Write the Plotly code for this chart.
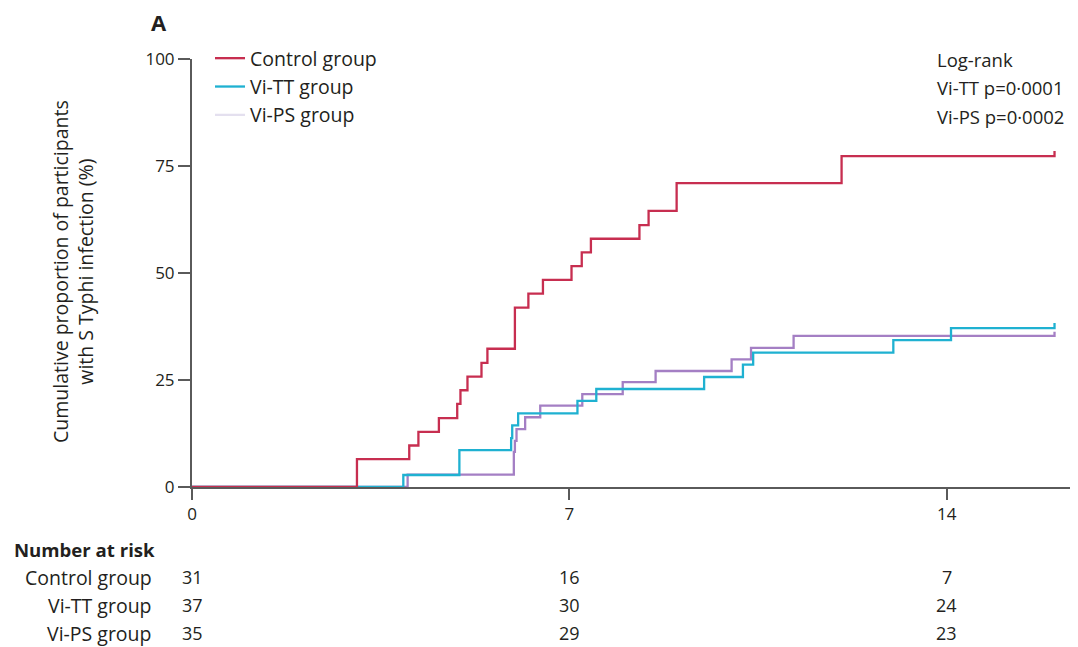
import plotly.graph_objects as go

# ---------------- data ----------------
control_t = [0, 3.06, 4.03, 4.20, 4.58, 4.92, 4.98, 5.11, 5.37, 5.48, 5.99, 6.24, 6.51,
             7.04, 7.23, 7.40, 8.30, 8.47, 8.99, 12.05, 16.0]
control_y = [0, 6.5, 9.7, 12.9, 16.1, 19.4, 22.6, 25.8, 29.0, 32.3, 41.9, 45.2, 48.4,
             51.6, 54.8, 58.0, 61.2, 64.5, 71.0, 77.3, 78.5]

vitt_t = [0, 3.92, 4.96, 5.92, 5.94, 6.05, 7.15, 7.50, 9.50, 10.22, 10.41, 13.01, 14.08, 16.0]
vitt_y = [0, 2.8, 8.6, 11.4, 14.4, 17.2, 20.1, 22.9, 25.7, 28.6, 31.4, 34.3, 37.1, 38.3]

vips_t = [0, 4.00, 5.97, 5.99, 6.02, 6.18, 6.46, 7.24, 7.99, 8.60, 10.01, 10.37, 11.16, 16.0]
vips_y = [0, 2.9, 8.2, 10.8, 13.5, 16.3, 19.0, 21.7, 24.5, 27.1, 29.8, 32.5, 35.3, 36.3]

group_names = ["Control group", "Vi-TT group", "Vi-PS group"]
risk_days = [0, 7, 14]
risk_control = [31, 16, 7]
risk_vitt = [37, 30, 24]
risk_vips = [35, 29, 23]

x_ticks = [0, 7, 14]
y_ticks = [0, 25, 50, 75, 100]
logrank_lines = ["Log-rank", "Vi-TT p=0·0001", "Vi-PS p=0·0002"]

# ---------------- style ----------------
RED = "#c72e50"
BLUE = "#1fb1d1"
PURPLE = "#a47fc4"
LEGEND_PS = "#e4e0ef"
AX = "#5a5a5a"
TXT = "#231f20"
FONT = "Open Sans"

fig = go.Figure()

series = [(control_t, control_y, RED), (vitt_t, vitt_y, BLUE), (vips_t, vips_y, PURPLE)]
for (t, y, c), name in reversed(list(zip(series, group_names))):
    fig.add_trace(go.Scatter(x=t, y=y, mode="lines", line=dict(color=c, width=2.3, shape="hv"),
                             name=name, showlegend=False, cliponaxis=False))

for name, c in zip(group_names, [RED, BLUE, LEGEND_PS]):
    fig.add_trace(go.Scatter(x=[None], y=[None], mode="lines", line=dict(color=c, width=2.3),
                             name=name, showlegend=True))

# page body has an 8px margin; all target pixel positions are shifted accordingly
OFF = 8
W, H = 1078 - OFF, 647 - OFF
L, R, T = 192 - OFF, 3, 59 - OFF
B = H - (487 - OFF)
pw, ph = W - L - R, H - T - B

def px(xp):
    return (xp - OFF - L) / pw

def py(yp):
    return (T + ph - (yp - OFF)) / ph

fig.update_layout(
    width=W, height=H,
    margin=dict(l=L, r=R, t=T, b=B),
    paper_bgcolor="white", plot_bgcolor="white",
    font=dict(family=FONT, size=17, color=TXT),
    showlegend=True,
    legend=dict(x=px(210), y=py(39), xanchor="left", yanchor="top",
                font=dict(size=19.5, color=TXT), bgcolor="rgba(0,0,0,0)",
                tracegroupgap=2, traceorder="normal"),
    xaxis=dict(range=[0, 16.38], tickvals=x_ticks, ticktext=[str(v) for v in x_ticks],
               showgrid=False, zeroline=False, showline=True, linecolor=AX, linewidth=2,
               ticks="outside", ticklen=11, tickwidth=2, tickcolor=AX, layer="below traces",
               tickfont=dict(size=17, color=TXT)),
    yaxis=dict(range=[0, 100], tickvals=y_ticks, ticktext=[str(v) for v in y_ticks],
               showgrid=False, zeroline=False, showline=True, linecolor=AX, linewidth=2,
               ticks="outside", ticklen=12, tickwidth=2, tickcolor=AX, layer="below traces",
               tickfont=dict(size=17, color=TXT)),
)

ann = []
ann.append(dict(text="<b>A</b>", x=px(149), y=py(22), xref="paper", yref="paper",
                xanchor="left", yanchor="middle", showarrow=False, font=dict(size=22, color=TXT)))
ann.append(dict(text="Cumulative proportion of participants<br>with S Typhi infection (%)",
                x=px(73), y=py(272), xref="paper", yref="paper", xanchor="center", yanchor="middle",
                textangle=-90, showarrow=False, font=dict(size=19.5, color=TXT)))
for i, line in enumerate(logrank_lines):
    ann.append(dict(text=line, x=px(935), y=py(59 + i * 28.5), xref="paper", yref="paper",
                    xanchor="left", yanchor="middle", showarrow=False, font=dict(size=18.5, color=TXT)))

ann.append(dict(text="<b>Number at risk</b>", x=px(12), y=py(549), xref="paper", yref="paper",
                xanchor="left", yanchor="middle", showarrow=False, font=dict(size=18.6, color=TXT)))
for i, (name, risk) in enumerate(zip(group_names, [risk_control, risk_vitt, risk_vips])):
    yy = py(577 + i * 28)
    ann.append(dict(text=name, x=px(154), y=yy, xref="paper", yref="paper", xanchor="right",
                    yanchor="middle", showarrow=False, font=dict(size=19.5, color=TXT)))
    for d, n in zip(risk_days, risk):
        ann.append(dict(text=str(n), x=d, y=yy, xref="x", yref="paper", xanchor="center",
                        yanchor="middle", showarrow=False, font=dict(size=18, color=TXT)))

fig.update_layout(annotations=ann)
fig.write_html("out.html")
